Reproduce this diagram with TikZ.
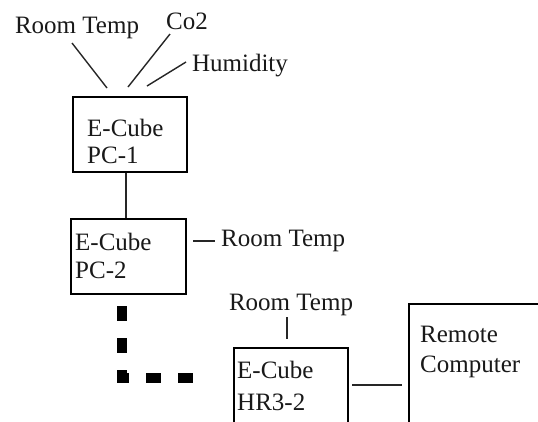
\documentclass[tikz,border=0pt]{standalone}
\usepackage{fontspec}
\setmainfont{Liberation Serif}
\begin{document}
\begin{tikzpicture}[x=1pt,y=-1pt,
  box/.style={draw=black, line width=1.6pt, anchor=north west, inner sep=0pt},
  lbl/.style={inner sep=0pt, font=\fontsize{25}{28}\selectfont, text=black!90},
  txt/.style={inner sep=0pt, align=left, anchor=west, text=black!90},
  wire/.style={line width=1.4pt, black!85},
  thickdash/.style={line width=10pt, dash pattern=on 15pt off 17pt, line cap=butt}]
\clip (0,0) rectangle (538,421);
\fill[white] (0,0) rectangle (538,421);
% boxes
\node[box, minimum width=114pt, minimum height=75pt] (pc1) at (72,96) {};
\node[box, minimum width=115pt, minimum height=75pt] (pc2) at (70,218) {};
\node[box, minimum width=114pt, minimum height=100pt] (hr) at (233,347) {};
\node[box, minimum width=160pt, minimum height=140pt] (rc) at (408,303) {};
% box texts
\node[txt, font=\fontsize{25}{27}\selectfont] (pc1t) at (87,141) {E-Cube\\PC-1};
\node[txt, font=\fontsize{25}{28}\selectfont] (pc2t) at (75,256) {E-Cube\\PC-2};
\node[txt, font=\fontsize{25}{32}\selectfont] (hrt) at (237,386) {E-Cube\\HR3-2};
\node[txt, font=\fontsize{25}{30}\selectfont] (rct) at (420,352) {Remote\\Computer};
% sensor labels
\node[lbl] (rt1) at (77,28) {Room Temp};
\node[lbl] (co2) at (187,21) {Co2};
\node[lbl] (hum) at (240,66) {Humidity};
\node[lbl, anchor=west] (rt2) at (221,241) {Room Temp};
\node[lbl] (rt3) at (291,305) {Room Temp};
% free line ends
\coordinate (a1) at (72,43);  \coordinate (a2) at (107,88);
\coordinate (b1) at (170,34); \coordinate (b2) at (128,87);
\coordinate (c1) at (186,62); \coordinate (c2) at (147,86);
\coordinate (d1) at (193,241); \coordinate (d2) at (215,241);
\coordinate (e1) at (287,317); \coordinate (e2) at (287,339);
\coordinate (f1) at (352,385); \coordinate (f2) at (402,385);
\coordinate (g0) at (122,306); \coordinate (g1) at (122,378); \coordinate (g2) at (204,378);
% connectors
\draw[wire] (a1) -- (a2);
\draw[wire] (b1) -- (b2);
\draw[wire] (c1) -- (c2);
\draw[wire] (pc1.south -| 126,0) -- (pc2.north -| 126,0);
\draw[wire] (d1) -- (d2);
\draw[wire] (e1) -- (e2);
\draw[wire] (f1) -- (f2);
\draw[thickdash] (g0) -- (g1) -- (g2);
\end{tikzpicture}
\end{document}
